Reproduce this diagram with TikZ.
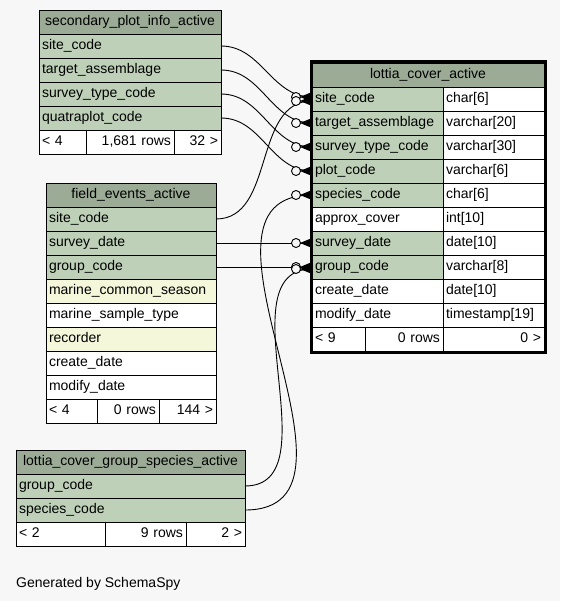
\documentclass[tikz,border=0pt]{standalone}
\usepackage{fontspec}
\setmainfont{Liberation Sans}
\usetikzlibrary{positioning}
\definecolor{bg}{HTML}{F7F7F7}
\definecolor{headgreen}{HTML}{9BAB96}
\definecolor{keygreen}{HTML}{BED1B8}
\definecolor{idxyellow}{HTML}{F4F7DA}

\begin{document}
\begin{tikzpicture}[x=1pt,y=-1pt,font=\fontsize{14}{16}\selectfont,
  cell/.style={draw,line width=0.9pt,outer sep=0pt,inner xsep=3pt,inner ysep=0pt,
    minimum height=24pt,text height=10.5pt,text depth=3.5pt,anchor=north west,align=left},
  head/.style={cell,fill=headgreen,align=center},
  key/.style={cell,fill=keygreen},
  idx/.style={cell,fill=idxyellow},
  plain/.style={cell,fill=white},
  footr/.style={plain,align=right},
  link/.style={line width=0.9pt},
  crowodot/.pic={
    \draw[line width=0.9pt,fill=bg] (-16,0) circle[radius=4.5pt];
    \fill (-12,0) -- (0,-5) -- (-2,0) -- (0,5) -- cycle;}]
\useasboundingbox[fill=bg] (0,0) rectangle (560,601);

% secondary_plot_info_active
\node[head,text width=176pt] (spi) at (39,10) {secondary\_plot\_info\_active};
\foreach \n/\c [count=\i] in {site/site\_code,target/target\_assemblage,
    survey/survey\_type\_code,quatra/quatraplot\_code}
  \node[key,text width=176pt] (spi-\n) at (39,{10+24*\i}) {\c};
\node[plain,text width=41pt] (spi-f1) at (39,130) {< 4};
\node[footr,text width=82pt,right=0pt of spi-f1] (spi-f2) {1,681 rows};
\node[footr,text width=41pt,right=0pt of spi-f2] (spi-f3) {32 >};

% field_events_active
\node[head,text width=164pt] (fea) at (46,183) {field\_events\_active};
\foreach \n/\c/\k [count=\i] in {site/site\_code/key,survey/survey\_date/key,
    group/group\_code/key,season/marine\_common\_season/idx,
    sample/marine\_sample\_type/plain,recorder/recorder/idx,
    create/create\_date/plain,modify/modify\_date/plain}
  \node[\k,text width=164pt] (fea-\n) at (46,{183+24*\i}) {\c};
\node[plain,text width=45pt] (fea-f1) at (46,399) {< 4};
\node[footr,text width=56pt,right=0pt of fea-f1] (fea-f2) {0 rows};
\node[footr,text width=51pt,right=0pt of fea-f2] (fea-f3) {144 >};

% lottia_cover_group_species_active
\node[head,text width=223pt] (lcg) at (16,450) {lottia\_cover\_group\_species\_active};
\node[key,text width=223pt] (lcg-group) at (16,474) {group\_code};
\node[key,text width=223pt] (lcg-species) at (16,498) {species\_code};
\node[plain,text width=83pt] (lcg-f1) at (16,522) {< 2};
\node[footr,text width=75pt,right=0pt of lcg-f1] (lcg-f2) {9 rows};
\node[footr,text width=53pt,right=0pt of lcg-f2] (lcg-f3) {2 >};

% lottia_cover_active
\node[head,text width=226pt] (lca) at (312,63) {lottia\_cover\_active};
\foreach \n/\c/\t/\k [count=\i] in {site/site\_code/char[6]/key,
    target/target\_assemblage/varchar[20]/key,survey/survey\_type\_code/varchar[30]/key,
    plot/plot\_code/varchar[6]/key,species/species\_code/char[6]/key,
    cover/approx\_cover/int[10]/plain,sdate/survey\_date/date[10]/key,
    group/group\_code/varchar[8]/key,create/create\_date/date[10]/plain,
    modify/modify\_date/timestamp[19]/plain}
{
  \node[\k,text width=125pt] (lca-\n) at (312,{63+24*\i}) {\c};
  \node[plain,text width=95pt,right=0pt of lca-\n] (lca-\n-t) {\t};
}
\node[plain,text width=47pt] (lca-f1) at (312,327) {< 9};
\node[footr,text width=72pt,right=0pt of lca-f1] (lca-f2) {0 rows};
\node[footr,text width=95pt,right=0pt of lca-f2] (lca-f3) {0 >};
\draw[line width=3pt] ([shift={(-1,-1)}]lca.north west) rectangle ([shift={(1,1)}]lca-f3.south east);

% relations
\draw[link] (spi-site.east) to[out=0,in=180] ([yshift=2pt]lca-site.west);
\draw[link] (spi-target.east) to[out=0,in=180] (lca-target.west);
\draw[link] (spi-survey.east) to[out=0,in=180] (lca-survey.west);
\draw[link] (spi-quatra.east) to[out=0,in=180] (lca-plot.west);
\draw[link] (fea-site.east) to[out=0,in=180] ([yshift=-2pt]lca-site.west);
\draw[link] (fea-survey.east) -- (lca-sdate.west);
\draw[link] (fea-group.east) -- (lca-group.west);
\draw[link] (lcg-group.east) to[out=0,in=180] ([yshift=-2pt]lca-group.west);
\draw[link] (lcg-species.east) to[out=0,in=180,looseness=1.15] (lca-species.west);

\pic at ([yshift=2pt]lca-site.west) {crowodot};
\pic at ([yshift=-2pt]lca-site.west) {crowodot};
\pic at (lca-target.west) {crowodot};
\pic at (lca-survey.west) {crowodot};
\pic at (lca-plot.west) {crowodot};
\pic at (lca-species.west) {crowodot};
\pic at (lca-sdate.west) {crowodot};
\pic at (lca-group.west) {crowodot};
\pic at ([yshift=-2pt]lca-group.west) {crowodot};

\node[anchor=base west,inner sep=0pt] (gen) at (16,587) {Generated by SchemaSpy};
\end{tikzpicture}
\end{document}
